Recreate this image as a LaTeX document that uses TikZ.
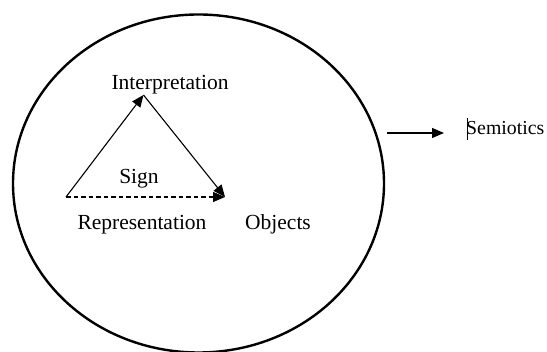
\documentclass[tikz,border=0pt]{standalone}
\usepackage{fontspec}
\setmainfont{Liberation Serif}
\usetikzlibrary{arrows.meta,shapes.geometric}
\begin{document}
\begin{tikzpicture}[x=1pt,y=-1pt,
  lbl/.style={font=\fontsize{21.5}{24}\selectfont, inner sep=0pt, anchor=base},
  conn/.style={line width=1.1pt, -{Triangle[length=12pt,width=10pt]}},
  dashconn/.style={conn, dash pattern=on 4.5pt off 3pt},
  oval/.style={draw, line width=2.4pt, ellipse, minimum width=371pt, minimum height=338pt, inner sep=0pt},
  cursorbar/.style={line width=0.9pt, draw=black!80!blue}]
\useasboundingbox (0,0) rectangle (547,352);
\node[oval] (E) at (198.5,183.5) {};
\coordinate (R) at (66,197);
\coordinate (I) at (143.5,95);
\coordinate (O) at (225,197);
\draw[conn] (R) -- (I);
\draw[conn] (I) -- (O);
\draw[dashconn] (R) -- (O);
\node[lbl] (interp) at (170,90) {Interpretation};
\node[lbl] (sign) at (139,184) {Sign};
\node[lbl] (repr) at (142,230) {Representation};
\node[lbl] (obj) at (278,230) {Objects};
\node[lbl, font=\fontsize{19.8}{22}\selectfont, anchor=base west] (semi) at (466,135) {Semiotics};
\coordinate (a1) at (387,133);
\coordinate (a2) at (444,133);
\draw[conn] (a1) -- (a2);
\coordinate (c1) at (467,118);
\coordinate (c2) at (467,140);
\draw[cursorbar] (c1) -- (c2);
\end{tikzpicture}
\end{document}
